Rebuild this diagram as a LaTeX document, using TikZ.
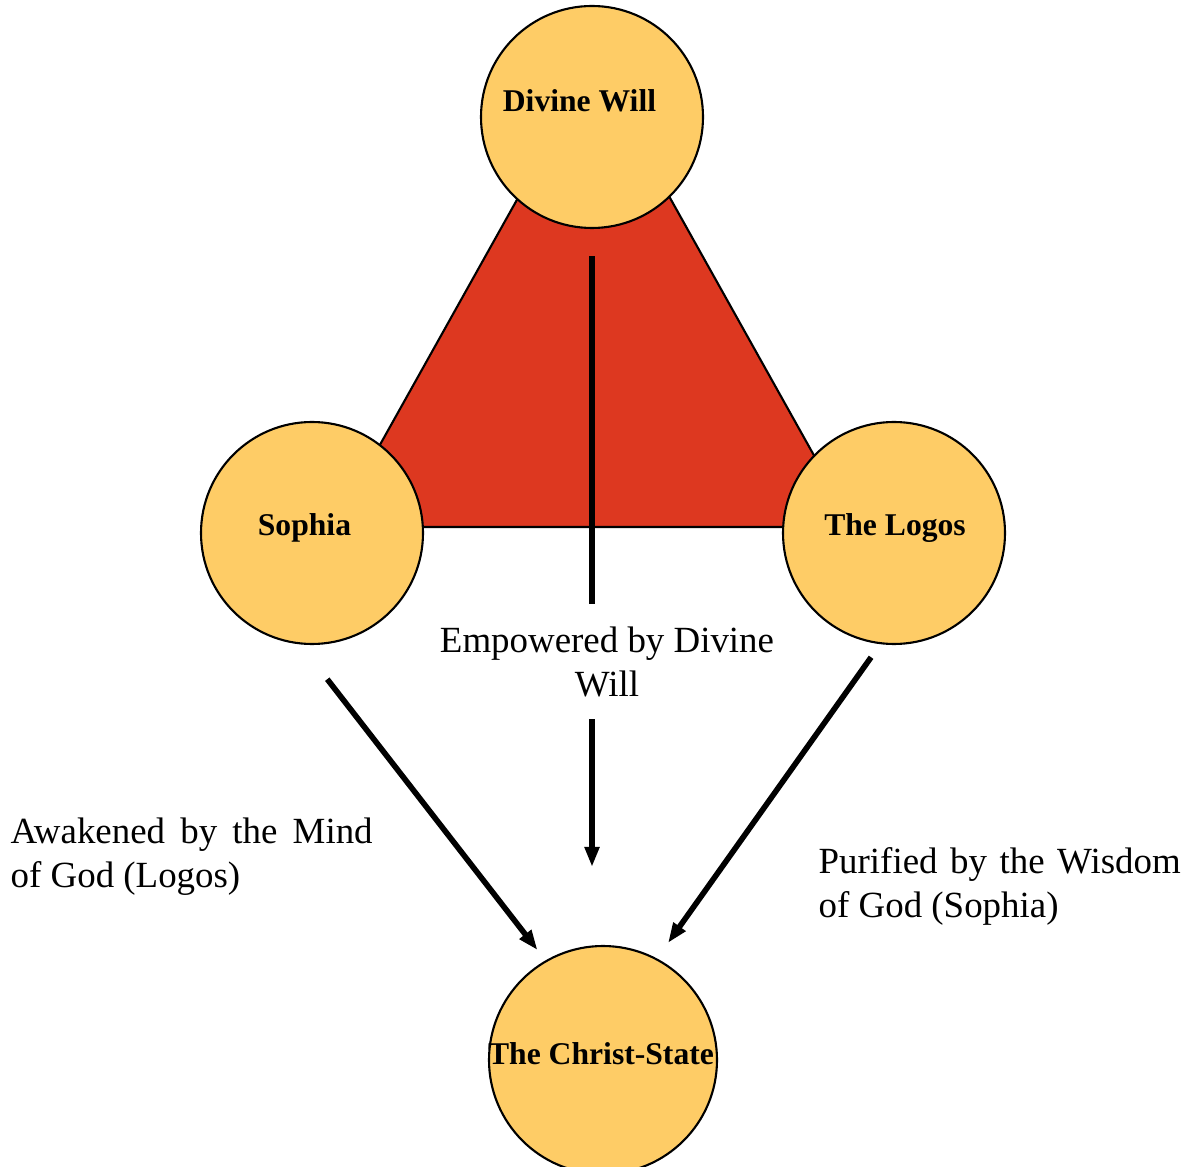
\documentclass[tikz,border=0pt]{standalone}
\usepackage{fontspec}
\setmainfont{Liberation Serif}
\usetikzlibrary{arrows.meta}

\definecolor{orbfill}{RGB}{254,204,102}
\definecolor{trianglered}{RGB}{221,56,32}

\tikzset{
    orb/.style={circle, draw=black, line width=0.6pt, fill=orbfill, minimum size=2.22cm, inner sep=0pt},
    orbtext/.style={font=\fontsize{9}{11}\selectfont\bfseries, inner sep=0pt},
    caption/.style={font=\fontsize{10.5}{12.5}\selectfont, text width=3.62cm, inner sep=0pt},
    link/.style={line width=1.6pt, -{Triangle[length=0.2cm,width=0.14cm]}},
}

\begin{document}
\begin{tikzpicture}
    \useasboundingbox (0,0) rectangle (11.98,-11.67);

    % Triangle
    \draw[line width=0.6pt, fill=trianglered] (5.94,-0.62) -- (3.34,-5.27) -- (8.54,-5.27) -- cycle;

    % Divine Will
    \node[orb, label={[orbtext, xshift=-0.125cm, yshift=0.16cm]center:Divine Will}] (will) at (5.92,-1.17) {};

    % Sophia and the Logos
    \node[orb, label={[orbtext, xshift=-0.075cm, yshift=0.05cm]center:Sophia}] (sophia) at (3.12,-5.33) {};
    \node[orb, label={[orbtext, xshift=0.01cm, yshift=0.05cm]center:The Logos}] (logos) at (8.94,-5.33) {};

    % The Christ-State
    \node[orb, minimum size=2.28cm, label={[orbtext, xshift=-0.02cm, yshift=0.06cm]center:The Christ-State}] (christ) at (6.03,-10.60) {};

    % Arrows
    \draw[link, shorten <=0.27cm, shorten >=0.78cm] (will.south) -- (will.south |- christ.north);
    \draw[link, shorten <=0.44cm, shorten >=0.13cm] (sophia.264) -- (christ.120);
    \draw[link, shorten <=0.16cm, shorten >=0.19cm] (logos.263) -- (christ.62);

    % Captions
    \node[caption, align=flush center, fill=white, minimum height=1.15cm] (empower) at (6.07,-6.62) {Empowered by Divine Will};
    \node[caption, align=justify, anchor=north west] (awaken) at (0.10,-8.176) {Awakened by the Mind of God (Logos)};
    \node[caption, align=justify, anchor=north west] (purify) at (8.18,-8.466) {Purified by the Wisdom of God (Sophia)};

\end{tikzpicture}
\end{document}
